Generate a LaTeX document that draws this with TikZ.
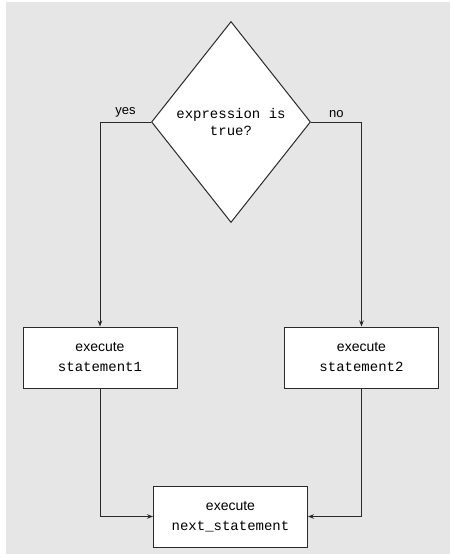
\documentclass[tikz,border=0pt]{standalone}
\usepackage{fontspec}
\setmainfont{Liberation Sans}
\setmonofont{Liberation Mono}
\usetikzlibrary{shapes.geometric,arrows.meta}
\definecolor{bg}{HTML}{E6E6E6}
\definecolor{ln}{HTML}{2A2A2A}
\begin{document}
\begin{tikzpicture}[x=1pt,y=-1pt,
  box/.style={draw=ln,line width=1pt,fill=white,minimum width=154pt,minimum height=61pt,inner sep=0pt,align=center,font=\fontsize{14}{20}\selectfont},
  decision/.style={draw=ln,line width=1pt,fill=white,shape=diamond,minimum width=159pt,minimum height=201pt,inner sep=0pt,align=center,font=\fontsize{14}{17}\selectfont\ttfamily},
  arr/.style={draw=ln,line width=0.9pt,-{Stealth[length=6pt,width=4.5pt]}},
  lbl/.style={font=\fontsize{13}{15}\selectfont,inner sep=4pt}]
\useasboundingbox (0,0) rectangle (450,554);
\fill[white] (0,0) rectangle (450,554);
\fill[bg] (6,2) rectangle (450,554);
\node[decision] (d) at (231,122) {expression is\\true?};
\node[box] (s1) at (100,357.5) {execute\\\ttfamily statement1};
\node[box] (s2) at (361.5,357.5) {execute\\\ttfamily statement2};
\node[box] (n) at (230.5,516.5) {execute\\\ttfamily next\_statement};
\draw[arr] (d.west) -| node[pos=0.25,above,lbl] {yes} (s1.north);
\draw[arr] (d.east) -| node[pos=0.25,above,lbl] {no} (s2.north);
\draw[arr] (s1.south) |- (n.west);
\draw[arr] (s2.south) |- (n.east);
\end{tikzpicture}
\end{document}
